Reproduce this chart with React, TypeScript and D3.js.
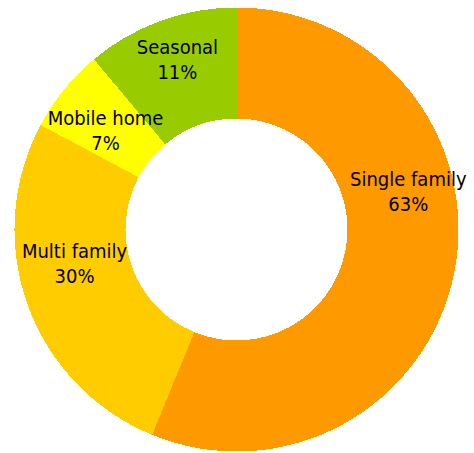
import React from "react";
import * as d3 from "d3";

const categories = ["Single family", "Multi family", "Mobile home", "Seasonal"];
const shares = [56.2, 26.6, 6.1, 11.1];
const percentLabels = ["63%", "30%", "7%", "11%"];
const colors = ["#FF9900", "#FFCC00", "#FFFF00", "#99CC00"];

const W = 474;
const H = 453;

export default function App() {
  const cx = 236.5;
  const cy = 229.5;
  const R = 222;
  const r = 111;

  const pie = d3
    .pie<number>()
    .sort(null)
    .value((d) => d)
    .startAngle(0)
    .endAngle(2 * Math.PI);
  const arcs = pie(shares);
  const arc = d3.arc<d3.PieArcDatum<number>>().innerRadius(r).outerRadius(R);
  const labelArc = d3
    .arc<d3.PieArcDatum<number>>()
    .innerRadius(170)
    .outerRadius(170);

  // per-label adjustments to mimic the reference's label placement
  const nudges: [number, number][] = [
    [5, -71],
    [-2, -24],
    [1, 8],
    [-1, -11],
  ];

  return (
    <svg
      width={W}
      height={H}
      style={{ position: "absolute", left: 0, top: 0, background: "#fff" }}
    >
      <g transform={`translate(${cx},${cy})`}>
        {arcs.map((a, i) => (
          <path
            key={i}
            d={arc(a) || ""}
            fill={colors[i]}
            shapeRendering="crispEdges"
          />
        ))}
        {arcs.map((a, i) => {
          const [x, y] = labelArc.centroid(a);
          const lx = x + nudges[i][0];
          const ly = y + nudges[i][1];
          return (
            <text
              key={"t" + i}
              x={lx}
              y={ly - 5}
              textAnchor="middle"
              fontFamily="'DejaVu Sans Condensed', 'DejaVu Sans', sans-serif"
              fontStretch="condensed"
              fontSize={20}
              fill="#000"
            >
              <tspan x={lx}>{categories[i]}</tspan>
              <tspan x={lx} dy={25}>
                {percentLabels[i]}
              </tspan>
            </text>
          );
        })}
      </g>
    </svg>
  );
}
